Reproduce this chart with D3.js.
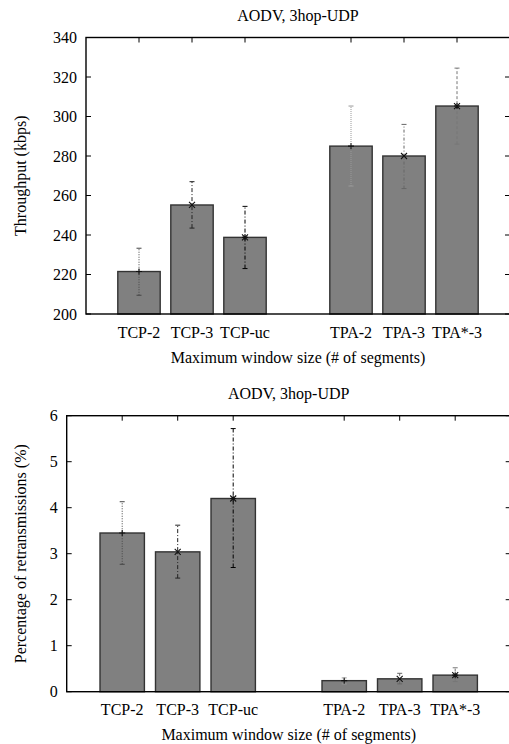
<!DOCTYPE html>
<html>
<head>
<meta charset="utf-8">
<script src="https://cdn.jsdelivr.net/npm/d3@7"></script>
<style>
  body { margin: 0; background: #fff; }
  svg { display: block; font-family: "Liberation Serif", "DejaVu Serif", serif; }
</style>
</head>
<body>
<svg id="chart" width="509" height="744"></svg>
<script>
// categories and their group (a gap is left between the two groups)
const categories = ["TCP-2", "TCP-3", "TCP-uc", "TPA-2", "TPA-3", "TPA*-3"];
const groups = ["TCP", "TCP", "TCP", "TPA", "TPA", "TPA"];

// throughput (kbps): mean, low, high
const tputMean = [221.5, 255.2, 238.8, 285.0, 280.0, 305.3];
const tputLow  = [209.5, 243.5, 223.0, 264.8, 263.5, 286.0];
const tputHigh = [233.3, 267.0, 254.5, 305.3, 296.0, 324.5];
const tputTicks = [200, 220, 240, 260, 280, 300, 320, 340];

// retransmissions (%): mean, low, high
const retxMean = [3.45, 3.04, 4.20, 0.24, 0.28, 0.36];
const retxLow  = [2.77, 2.47, 2.70, 0.17, 0.17, 0.22];
const retxHigh = [4.13, 3.62, 5.72, 0.30, 0.40, 0.52];
const retxTicks = [0, 1, 2, 3, 4, 5, 6];

const title = "AODV, 3hop-UDP";
const xTitle = "Maximum window size (# of segments)";

const markers = ["+", "x", "*", "+", "x", "*"];
const errStyle = [
  { c: "#444", d: "1,1.5" },
  { c: "#222", d: "4,2,1,2" },
  { c: "#000", d: "4,2,1,2" },
  { c: "#999", d: "1,1" },
  { c: "#666", d: "3,2,1,2" },
  { c: "#777", d: "3,2" }
];

const svg = d3.select("#chart");

function pos(i) {
  return i + 1 + (groups[i] === "TPA" ? 1 : 0);
}

function drawPanel(opt) {
  const { left, right, top, bottom, yDomain, ticks, mean, low, high, yLabel } = opt;
  const x = d3.scaleLinear().domain([0, 8]).range([left, right]);
  const y = d3.scaleLinear().domain(yDomain).range([bottom, top]);
  const g = svg.append("g");
  const rows = categories.map((c, i) => ({ c, i, m: mean[i], lo: low[i], hi: high[i] }));

  // title
  g.append("text")
    .attr("x", (left + right) / 2).attr("y", top - 17)
    .attr("text-anchor", "middle").style("font-size", "16px")
    .text(title);

  // y ticks, inward on both sides
  g.selectAll(".yt").data(ticks).enter().append("path")
    .attr("d", d => `M${left},${y(d)}h5M${right},${y(d)}h-5`)
    .attr("stroke", "#000").attr("stroke-width", 1);
  g.selectAll(".yl").data(ticks).enter().append("text")
    .attr("x", left - 9).attr("y", d => y(d))
    .attr("dy", "0.35em").attr("text-anchor", "end")
    .style("font-size", "16px")
    .text(d => d);

  // x ticks on top and bottom
  g.selectAll(".xt").data(rows).enter().append("path")
    .attr("d", d => `M${x(pos(d.i))},${top}v5M${x(pos(d.i))},${bottom}v-5`)
    .attr("stroke", "#000").attr("stroke-width", 1);
  g.selectAll(".xl").data(rows).enter().append("text")
    .attr("x", d => x(pos(d.i))).attr("y", bottom + 18)
    .attr("dy", "0.35em").attr("text-anchor", "middle")
    .style("font-size", "16px")
    .text(d => d.c);

  // bars
  const bw = x(0.8) - x(0);
  g.selectAll(".bar").data(rows).enter().append("rect")
    .attr("x", d => x(pos(d.i)) - bw / 2)
    .attr("y", d => y(d.m))
    .attr("width", bw)
    .attr("height", d => bottom - y(d.m))
    .attr("fill", "#808080")
    .attr("stroke", "#333").attr("stroke-width", 1.4);

  // error bars
  const eb = g.selectAll(".eb").data(rows).enter().append("g");
  eb.append("line")
    .attr("x1", d => x(pos(d.i))).attr("x2", d => x(pos(d.i)))
    .attr("y1", d => y(d.lo)).attr("y2", d => y(d.hi))
    .attr("stroke", d => errStyle[d.i].c)
    .attr("stroke-dasharray", d => errStyle[d.i].d)
    .attr("stroke-width", 1);
  eb.append("path")
    .attr("d", d => `M${x(pos(d.i)) - 2.5},${y(d.lo)}h5M${x(pos(d.i)) - 2.5},${y(d.hi)}h5`)
    .attr("stroke", d => errStyle[d.i].c).attr("stroke-width", 1);
  eb.append("path")
    .attr("d", d => {
      const cx = x(pos(d.i)), cy = y(d.m), r = 3;
      const m = markers[d.i];
      if (m === "+") return `M${cx - r},${cy}h${2 * r}M${cx},${cy - r}v${2 * r}`;
      if (m === "x") return `M${cx - r},${cy - r}l${2 * r},${2 * r}M${cx - r},${cy + r}l${2 * r},${-2 * r}`;
      return `M${cx - r},${cy}h${2 * r}M${cx},${cy - r}v${2 * r}M${cx - r},${cy - r}l${2 * r},${2 * r}M${cx - r},${cy + r}l${2 * r},${-2 * r}`;
    })
    .attr("stroke", "#111").attr("stroke-width", 1.1).attr("fill", "none");

  // frame
  g.append("rect")
    .attr("x", left).attr("y", top)
    .attr("width", right - left).attr("height", bottom - top)
    .attr("fill", "none").attr("stroke", "#000").attr("stroke-width", 1.4);

  // axis titles
  g.append("text")
    .attr("x", (left + right) / 2).attr("y", bottom + 43)
    .attr("dy", "0.35em").attr("text-anchor", "middle")
    .style("font-size", "16px")
    .text(xTitle);
  g.append("text")
    .attr("transform", `translate(20,${(top + bottom) / 2}) rotate(-90)`)
    .attr("dy", "0.35em").attr("text-anchor", "middle")
    .style("font-size", "16px")
    .text(yLabel);
}

drawPanel({
  left: 86, right: 510, top: 37.5, bottom: 314,
  yDomain: [200, 340], ticks: tputTicks,
  mean: tputMean, low: tputLow, high: tputHigh,
  yLabel: "Throughput (kbps)"
});

drawPanel({
  left: 66.7, right: 510.7, top: 415.7, bottom: 691.7,
  yDomain: [0, 6], ticks: retxTicks,
  mean: retxMean, low: retxLow, high: retxHigh,
  yLabel: "Percentage of retransmissions (%)"
});
</script>
</body>
</html>
